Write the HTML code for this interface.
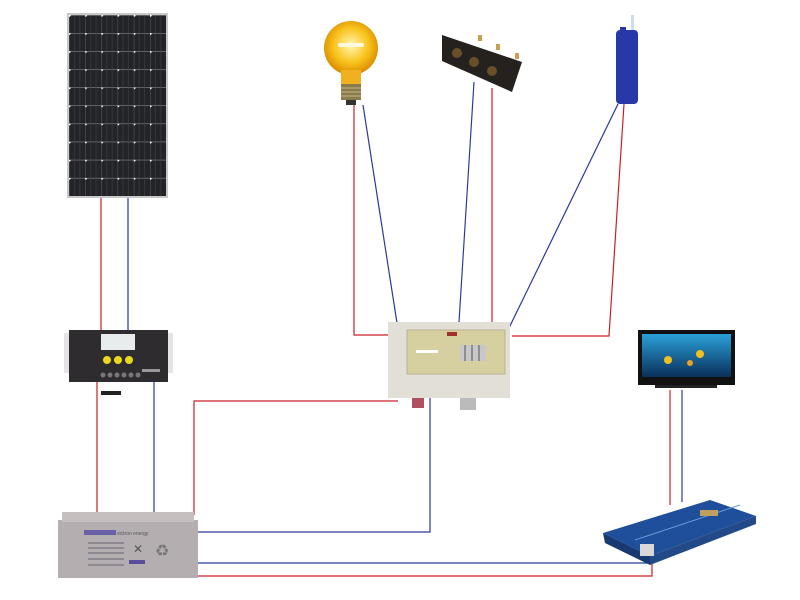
<!DOCTYPE html>
<html><head><style>html,body{margin:0;padding:0;background:#fff;}svg{display:block}</style></head>
<body>
<svg width="800" height="600" viewBox="0 0 800 600" xmlns="http://www.w3.org/2000/svg" font-family="Liberation Sans, sans-serif">
<defs>
<pattern id="cells" x="69" y="15" width="16.2" height="18.1" patternUnits="userSpaceOnUse">
<rect width="16.2" height="18.1" fill="#232428"/>
<line x1="0" y1="0" x2="16.2" y2="0" stroke="#a0a2a6" stroke-width="0.9"/>
<line x1="0" y1="0" x2="0" y2="18.1" stroke="#707276" stroke-width="0.7"/>
<line x1="5.4" y1="0" x2="5.4" y2="18.1" stroke="#45474c" stroke-width="0.5"/>
<line x1="10.8" y1="0" x2="10.8" y2="18.1" stroke="#45474c" stroke-width="0.5"/>
<circle cx="0" cy="0" r="1.8" fill="#fff"/>
</pattern>
<radialGradient id="bulb" cx="0.5" cy="0.45" r="0.55"><stop offset="0" stop-color="#fff7b0"/><stop offset="0.6" stop-color="#f8c21a"/><stop offset="1" stop-color="#d98a00"/></radialGradient>
<linearGradient id="sea" x1="0" y1="0" x2="0" y2="1"><stop offset="0" stop-color="#2aa0d8"/><stop offset="1" stop-color="#0a2f5a"/></linearGradient>
</defs>

<g fill="none" stroke-width="1.2">
<line x1="101" y1="197" x2="101" y2="330" stroke="#c8202a"/>
<line x1="128" y1="197" x2="128" y2="330" stroke="#2a3a9a"/>
<line x1="97" y1="382" x2="97" y2="512" stroke="#c8202a"/>
<line x1="154" y1="382" x2="154" y2="512" stroke="#2a3a9a"/>
<polyline points="194,515 194,401 398,401" stroke="#c8202a"/>
<polyline points="198,532 430,532 430,398" stroke="#2a3a9a"/>
<polyline points="198,563 650,563" stroke="#2a3a9a"/>
<polyline points="198,576 652,576 652,561" stroke="#c8202a"/>
<line x1="670" y1="390" x2="670" y2="505" stroke="#c8202a"/>
<line x1="682" y1="390" x2="682" y2="502" stroke="#2a3a9a"/>
<polyline points="354,105 354,335 390,335" stroke="#c8202a"/>
<line x1="363" y1="105" x2="397" y2="323" stroke="#2a3a9a"/>
<line x1="474" y1="82" x2="459" y2="322" stroke="#2a3a9a"/>
<line x1="492" y1="88" x2="492" y2="322" stroke="#c8202a"/>
<line x1="618" y1="104" x2="508" y2="330" stroke="#2a3a9a"/>
<polyline points="624,104 609,336 512,336" stroke="#c8202a"/>
</g>

<rect x="67" y="13" width="101" height="185" fill="#c8c8c8"/>
<rect x="69" y="15" width="97" height="181" fill="url(#cells)"/>

<rect x="64" y="333" width="8" height="40" fill="#e4e4e4"/>
<rect x="165" y="333" width="8" height="40" fill="#e4e4e4"/>
<rect x="69" y="330" width="99" height="52" fill="#2e2c2e"/>
<rect x="101" y="334" width="34" height="16" fill="#e8ecec"/>
<circle cx="107" cy="360" r="4" fill="#e8d820"/><circle cx="118" cy="360" r="4" fill="#e8d820"/><circle cx="129" cy="360" r="4" fill="#e8d820"/>
<g fill="#777"><circle cx="103" cy="375" r="2.5"/><circle cx="110" cy="375" r="2.5"/><circle cx="117" cy="375" r="2.5"/><circle cx="124" cy="375" r="2.5"/><circle cx="131" cy="375" r="2.5"/><circle cx="138" cy="375" r="2.5"/></g>
<rect x="142" y="369" width="18" height="3" fill="#999"/>
<rect x="101" y="391" width="20" height="4" fill="#222"/>

<rect x="58" y="520" width="140" height="58" fill="#b5aeb0"/>
<rect x="62" y="512" width="132" height="10" fill="#c5bfc0"/>
<rect x="84" y="530" width="32" height="5" fill="#6a60a8"/>
<text x="117" y="535" font-size="5" fill="#555">victron energy</text>
<g fill="#8e8890"><rect x="88" y="542" width="36" height="2"/><rect x="88" y="547" width="36" height="2"/><rect x="88" y="552" width="36" height="2"/><rect x="88" y="558" width="36" height="2"/><rect x="88" y="564" width="36" height="2"/></g>
<text x="133" y="553" font-size="12" fill="#555">✕</text>
<text x="155" y="556" font-size="16" fill="#777">♻</text>
<rect x="129" y="560" width="16" height="4" fill="#5a4e9a"/>

<rect x="388" y="322" width="122" height="76" fill="#e2e0d6"/>
<rect x="407" y="330" width="98" height="44" fill="#d6cfa0" stroke="#b8b090"/>
<rect x="447" y="332" width="10" height="4" fill="#a03030"/>
<rect x="460" y="345" width="26" height="16" fill="#c8c8c8"/>
<g stroke="#555"><line x1="465" y1="345" x2="465" y2="361"/><line x1="472" y1="345" x2="472" y2="361"/><line x1="479" y1="345" x2="479" y2="361"/></g>
<rect x="416" y="350" width="22" height="3" fill="#fff"/>
<rect x="412" y="398" width="12" height="10" fill="#b05060"/>
<rect x="460" y="398" width="16" height="12" fill="#bbb"/>

<circle cx="351" cy="48" r="27" fill="url(#bulb)"/>
<rect x="341" y="70" width="20" height="14" fill="#f0b020"/>
<rect x="341" y="84" width="20" height="16" fill="#8a7a50"/>
<g stroke="#c8b880"><line x1="341" y1="88" x2="361" y2="88"/><line x1="341" y1="92" x2="361" y2="92"/><line x1="341" y1="96" x2="361" y2="96"/></g>
<rect x="346" y="100" width="10" height="5" fill="#333"/>
<rect x="338" y="43" width="26" height="4" rx="2" fill="#fff8e0"/>

<polygon points="442,35 522,62 512,92 442,61" fill="#25211e"/>
<circle cx="457" cy="53" r="5" fill="#6a5028"/><circle cx="474" cy="62" r="5" fill="#6a5028"/><circle cx="492" cy="71" r="5" fill="#6a5028"/>
<g fill="#c8a050"><rect x="478" y="35" width="4" height="6"/><rect x="496" y="44" width="4" height="6"/><rect x="515" y="53" width="4" height="6"/></g>

<rect x="631" y="15" width="3" height="20" fill="#cde"/>
<rect x="616" y="30" width="22" height="74" rx="4" fill="#2838a8"/>
<rect x="620" y="27" width="6" height="8" fill="#2838a8"/>

<rect x="638" y="330" width="97" height="55" fill="#111"/>
<rect x="642" y="334" width="89" height="43" fill="url(#sea)"/>
<circle cx="668" cy="360" r="4" fill="#f0c020"/><circle cx="700" cy="354" r="4" fill="#f0c020"/><circle cx="690" cy="363" r="3" fill="#f0a020"/>
<rect x="655" y="385" width="62" height="3" fill="#222"/>

<polygon points="603,533 710,500 756,516 650,556" fill="#1f4f9a"/>
<polygon points="603,533 650,556 650,565 605,543" fill="#183a70"/>
<polygon points="650,556 756,516 756,524 650,565" fill="#234a88"/>
<line x1="635" y1="540" x2="740" y2="505" stroke="#6a9ad8"/>
<rect x="640" y="544" width="14" height="12" fill="#d8d8d8"/>
<rect x="700" y="510" width="18" height="6" fill="#c0a060"/>
</svg>
</body></html>
